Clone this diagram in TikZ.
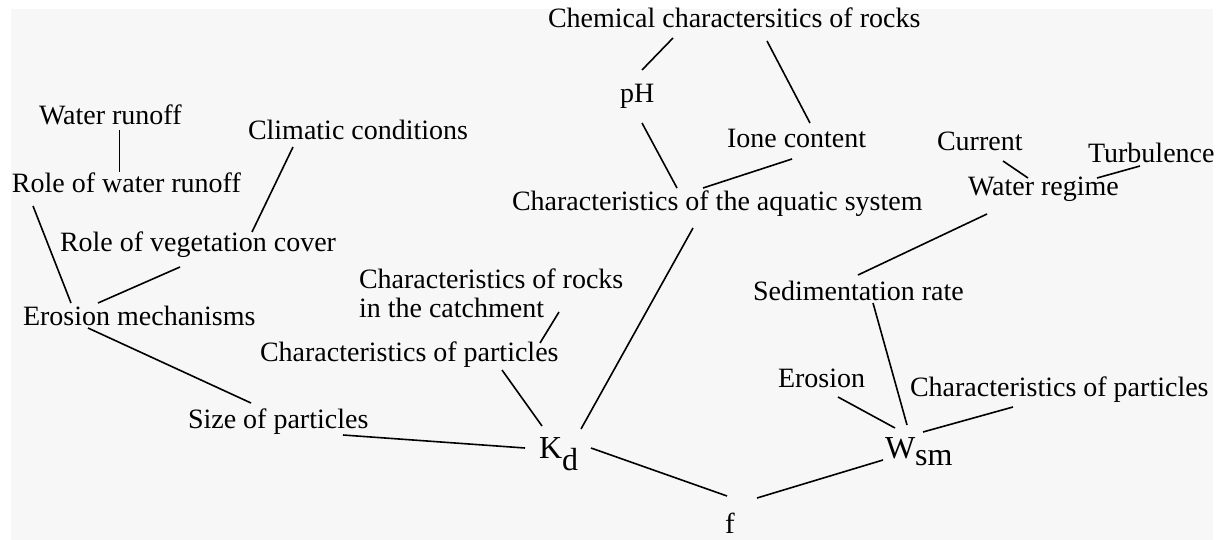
\documentclass[tikz,border=0pt]{standalone}
\usepackage{fontspec}
\setmainfont{Liberation Serif}
\definecolor{bggray}{HTML}{F7F7F7}
\tikzset{
  lbl/.style={anchor=base west, inner sep=0pt, outer sep=0pt, font=\fontsize{28}{29}\selectfont},
  big/.style={anchor=base west, inner sep=0pt, outer sep=0pt, font=\fontsize{32}{32}\selectfont},
  link/.style={line width=1.6pt, black}
}
\begin{document}
\begin{tikzpicture}[x=1pt, y=-1pt]
\useasboundingbox (0,0) rectangle (1230,540);
\fill[white] (0,0) rectangle (1230,540);
\fill[bggray] (11,9) rectangle (1213,540);

% labels
\node[lbl] (chem) at (548,28) {Chemical charactersitics of rocks};
\node[lbl] (ph) at (620,103) {pH};
\node[lbl] (ione) at (727,148) {Ione content};
\node[lbl] (aqua) at (512,210) {Characteristics of the aquatic system};
\node[lbl] (wr) at (39,125) {Water runoff};
\node[lbl] (clim) at (248,140) {Climatic conditions};
\node[lbl] (rwr) at (12,193) {Role of water runoff};
\node[lbl] (rveg) at (60,251) {Role of vegetation cover};
\node[lbl, anchor=north west, align=left] (rocks) at (359,269) {Characteristics of rocks\\[0pt]in the catchment};
\node[lbl] (eros) at (23,325) {Erosion mechanisms};
\node[lbl] (cpl) at (260,361) {Characteristics of particles};
\node[lbl] (size) at (188,428) {Size of particles};
\node[lbl] (cur) at (937,151) {Current};
\node[lbl] (turb) at (1088,163) {Turbulence};
\node[lbl] (wreg) at (968,195) {Water regime};
\node[lbl] (sed) at (753,300) {Sedimentation rate};
\node[lbl] (er) at (778,387) {Erosion};
\node[lbl] (cpr) at (910,396) {Characteristics of particles};
\node[big] (kd) at (539,458) {K\raisebox{-12pt}{d}};
\node[big] (wsm) at (885,458) {W\raisebox{-7pt}{sm}};
\node[lbl, font=\fontsize{29}{29}\selectfont] (f) at (725,533) {f};

% connector end points
\coordinate (wrA) at (119.5,130);  \coordinate (wrB) at (119.5,172);
\coordinate (clA) at (293,147);    \coordinate (clB) at (252,232);
\coordinate (rwA) at (33,206);     \coordinate (rwB) at (71,303);
\coordinate (rvA) at (180,267);    \coordinate (rvB) at (98,303);
\coordinate (emA) at (88,328);     \coordinate (emB) at (251,403);
\coordinate (spA) at (343,435);    \coordinate (spB) at (525,448);
\coordinate (rkA) at (559,312);    \coordinate (rkB) at (540,343);
\coordinate (cpA) at (502,370);    \coordinate (cpB) at (542,426);
\coordinate (aqA) at (693,228);    \coordinate (aqB) at (581,429);
\coordinate (kfA) at (591,448);    \coordinate (kfB) at (727,496);
\coordinate (wfA) at (883,460);    \coordinate (wfB) at (757,498);
\coordinate (phA) at (642,70);     \coordinate (phB) at (673,38);
\coordinate (paA) at (642,123);    \coordinate (paB) at (677,188);
\coordinate (ciA) at (767,41);     \coordinate (ciB) at (810,123);
\coordinate (iaA) at (792,159);    \coordinate (iaB) at (703,188);
\coordinate (cuA) at (1003,161);   \coordinate (cuB) at (1028,178);
\coordinate (tuA) at (1140,166);   \coordinate (tuB) at (1097,178);
\coordinate (wsA) at (987,214);    \coordinate (wsB) at (858,275);
\coordinate (swA) at (873,303);    \coordinate (swB) at (907,425);
\coordinate (ewA) at (838,397);    \coordinate (ewB) at (895,428);
\coordinate (pwA) at (1013,407);   \coordinate (pwB) at (923,432);

% connectors
\draw[link] (wrA) -- (wrB);
\draw[link] (clA) -- (clB);
\draw[link] (rwA) -- (rwB);
\draw[link] (rvA) -- (rvB);
\draw[link] (emA) -- (emB);
\draw[link] (spA) -- (spB);
\draw[link] (rkA) -- (rkB);
\draw[link] (cpA) -- (cpB);
\draw[link] (aqA) -- (aqB);
\draw[link] (kfA) -- (kfB);
\draw[link] (wfA) -- (wfB);
\draw[link] (phA) -- (phB);
\draw[link] (paA) -- (paB);
\draw[link] (ciA) -- (ciB);
\draw[link] (iaA) -- (iaB);
\draw[link] (cuA) -- (cuB);
\draw[link] (tuA) -- (tuB);
\draw[link] (wsA) -- (wsB);
\draw[link] (swA) -- (swB);
\draw[link] (ewA) -- (ewB);
\draw[link] (pwA) -- (pwB);
\end{tikzpicture}
\end{document}
